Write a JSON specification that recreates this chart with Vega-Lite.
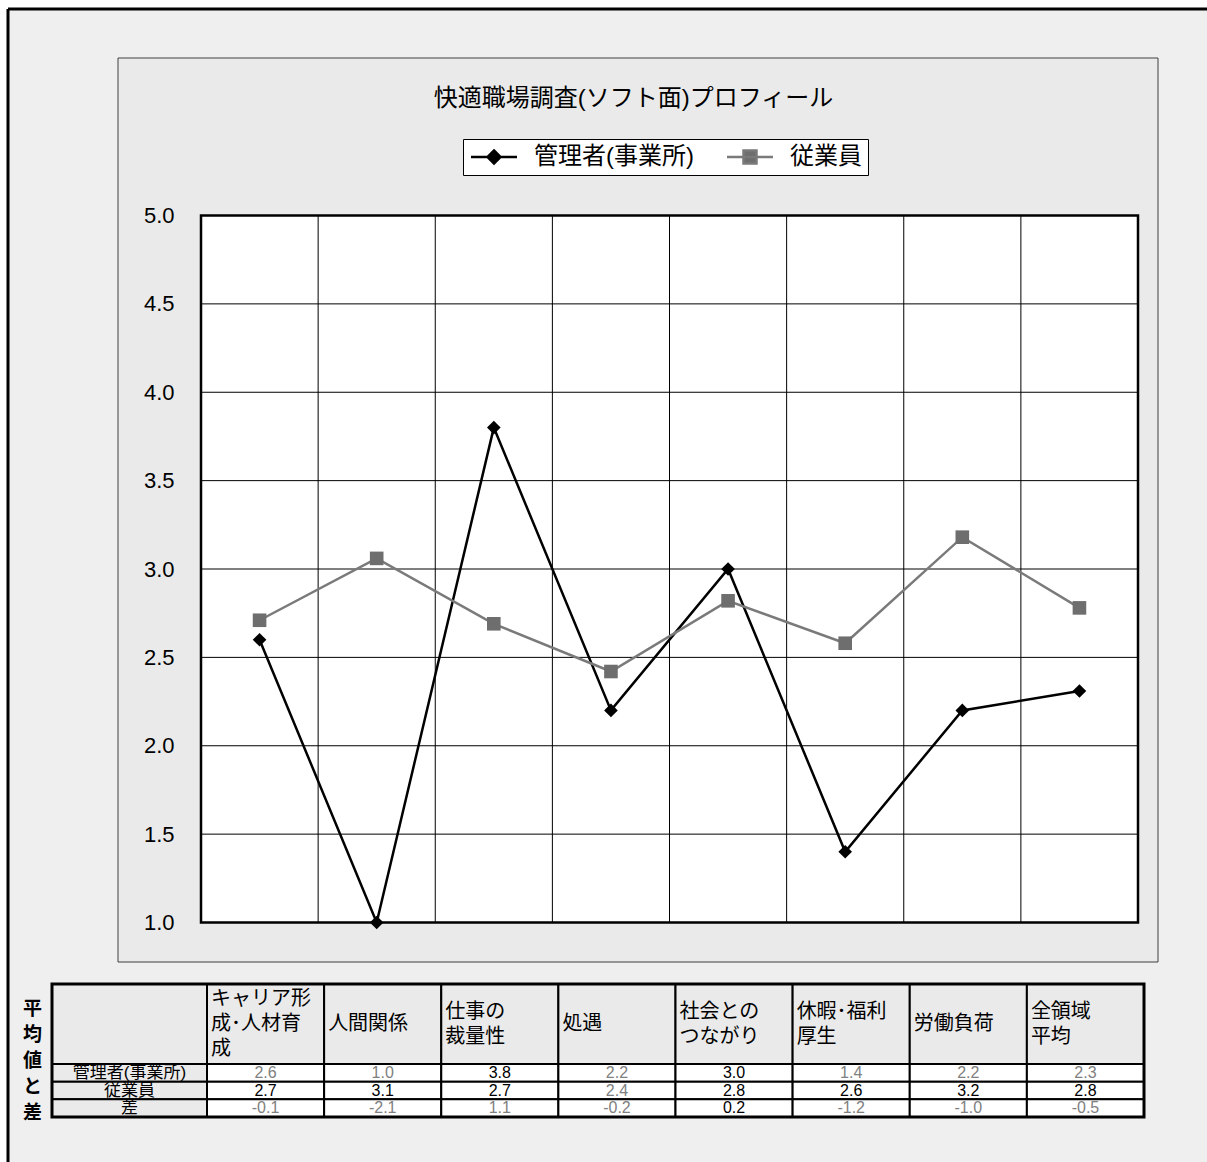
{
  "$schema": "https://vega.github.io/schema/vega-lite/v6.json",
  "width": 1199,
  "height": 1153,
  "autosize": {"type": "none"},
  "padding": {"left": 8, "top": 9, "right": 0, "bottom": 0},
  "background": "#FFFFFF",
  "config": {
    "view": {"fill": "#EFEFEF", "stroke": null},
    "font": "Liberation Sans, Noto Sans CJK JP",
    "locale": {"number": {"decimal": ".", "thousands": ",", "grouping": [3], "currency": ["", ""], "minus": "-"}}
  },
  "title": {
    "text": "快適職場調査(ソフト面)プロフィール",
    "fontSize": 24,
    "fontWeight": "normal",
    "font": "Liberation Sans, Noto Sans CJK JP",
    "color": "#000000",
    "anchor": "middle",
    "frame": "group",
    "baseline": "middle",
    "offset": -115,
    "dx": 26
  },
  "datasets": {
    "cells": [
      {"cat": "キャリア形成･人材育成", "row": "管理者(事業所)", "value": 2.6},
      {"cat": "人間関係", "row": "管理者(事業所)", "value": 1.0},
      {"cat": "仕事の裁量性", "row": "管理者(事業所)", "value": 3.8},
      {"cat": "処遇", "row": "管理者(事業所)", "value": 2.2},
      {"cat": "社会とのつながり", "row": "管理者(事業所)", "value": 3.0},
      {"cat": "休暇･福利厚生", "row": "管理者(事業所)", "value": 1.4},
      {"cat": "労働負荷", "row": "管理者(事業所)", "value": 2.2},
      {"cat": "全領域平均", "row": "管理者(事業所)", "value": 2.31},
      {"cat": "キャリア形成･人材育成", "row": "従業員", "value": 2.71},
      {"cat": "人間関係", "row": "従業員", "value": 3.06},
      {"cat": "仕事の裁量性", "row": "従業員", "value": 2.69},
      {"cat": "処遇", "row": "従業員", "value": 2.42},
      {"cat": "社会とのつながり", "row": "従業員", "value": 2.82},
      {"cat": "休暇･福利厚生", "row": "従業員", "value": 2.58},
      {"cat": "労働負荷", "row": "従業員", "value": 3.18},
      {"cat": "全領域平均", "row": "従業員", "value": 2.78},
      {"cat": "キャリア形成･人材育成", "row": "差", "value": -0.1},
      {"cat": "人間関係", "row": "差", "value": -2.1},
      {"cat": "仕事の裁量性", "row": "差", "value": 1.1},
      {"cat": "処遇", "row": "差", "value": -0.2},
      {"cat": "社会とのつながり", "row": "差", "value": 0.2},
      {"cat": "休暇･福利厚生", "row": "差", "value": -1.2},
      {"cat": "労働負荷", "row": "差", "value": -1.0},
      {"cat": "全領域平均", "row": "差", "value": -0.5}
    ],
    "headers": [
      {"cat": "キャリア形成･人材育成", "label": "キャリア形\n成･人材育\n成"},
      {"cat": "人間関係", "label": "人間関係"},
      {"cat": "仕事の裁量性", "label": "仕事の\n裁量性"},
      {"cat": "処遇", "label": "処遇"},
      {"cat": "社会とのつながり", "label": "社会との\nつながり"},
      {"cat": "休暇･福利厚生", "label": "休暇･福利\n厚生"},
      {"cat": "労働負荷", "label": "労働負荷"},
      {"cat": "全領域平均", "label": "全領域\n平均"}
    ],
    "levels": [
      {"level": 1.5}, {"level": 2.0}, {"level": 2.5}, {"level": 3.0},
      {"level": 3.5}, {"level": 4.0}, {"level": 4.5}
    ]
  },
  "layer": [
    {
      "data": {"values": [{}]},
      "mark": {"type": "rule", "color": "#000000", "strokeWidth": 3},
      "encoding": {
        "x": {"datum": 0, "type": "quantitative", "scale": {"domain": [0, 1]}, "axis": null},
        "x2": {"datum": 1},
        "y": {"datum": 1, "type": "quantitative", "scale": {"domain": [0, 1]}, "axis": null}
      }
    },
    {
      "data": {"values": [{}]},
      "mark": {"type": "rule", "color": "#000000", "strokeWidth": 3},
      "encoding": {
        "x": {"datum": 0, "type": "quantitative", "scale": {"domain": [0, 1]}, "axis": null},
        "y": {"datum": 0, "type": "quantitative", "scale": {"domain": [0, 1]}, "axis": null},
        "y2": {"datum": 1}
      }
    },
    {
      "data": {"values": [{}]},
      "mark": {"type": "rect", "fill": "#EAEAEA", "stroke": "#404040", "strokeWidth": 1},
      "encoding": {
        "x": {"datum": 0, "type": "quantitative", "scale": {"domain": [0, 1], "range": [110, 1150]}, "axis": null},
        "x2": {"datum": 1},
        "y": {"datum": 0, "type": "quantitative", "scale": {"domain": [0, 1], "range": [49, 953]}, "axis": null},
        "y2": {"datum": 1}
      }
    },
    {
      "data": {"values": [{}]},
      "mark": {"type": "rect", "fill": "#FFFFFF"},
      "encoding": {
        "x": {"datum": 0, "type": "quantitative", "scale": {"domain": [0, 1], "range": [193, 1130]}, "axis": null},
        "x2": {"datum": 1},
        "y": {"datum": 1, "type": "quantitative", "scale": {"domain": [1, 5], "range": [913.5, 206.5], "zero": false, "nice": false}, "axis": null},
        "y2": {"datum": 5}
      }
    },
    {
      "data": {"name": "levels"},
      "mark": {"type": "rule", "color": "#000000", "strokeWidth": 1},
      "encoding": {
        "y": {"field": "level", "type": "quantitative", "scale": {"domain": [1, 5], "range": [913.5, 206.5], "zero": false, "nice": false}, "axis": null},
        "x": {"datum": 0, "type": "quantitative", "scale": {"domain": [0, 1], "range": [193, 1130]}, "axis": null},
        "x2": {"datum": 1}
      }
    },
    {
      "data": {"name": "headers"},
      "mark": {"type": "rule", "color": "#000000", "strokeWidth": 1},
      "encoding": {
        "x": {"field": "cat", "type": "nominal", "bandPosition": 0,
              "scale": {"type": "band", "domain": ["キャリア形成･人材育成", "人間関係", "仕事の裁量性", "処遇", "社会とのつながり", "休暇･福利厚生", "労働負荷", "全領域平均"], "range": [193, 1130], "paddingInner": 0, "paddingOuter": 0},
              "axis": null},
        "y": {"datum": 1, "type": "quantitative", "scale": {"domain": [1, 5], "range": [913.5, 206.5], "zero": false, "nice": false}, "axis": null},
        "y2": {"datum": 5}
      }
    },
    {
      "data": {"values": [{}]},
      "mark": {"type": "rect", "fillOpacity": 0, "stroke": "#000000", "strokeWidth": 2.5},
      "encoding": {
        "x": {"datum": 0, "type": "quantitative", "scale": {"domain": [0, 1], "range": [193, 1130]}, "axis": null},
        "x2": {"datum": 1},
        "y": {"datum": 1, "type": "quantitative", "scale": {"domain": [1, 5], "range": [913.5, 206.5], "zero": false, "nice": false}, "axis": null},
        "y2": {"datum": 5}
      }
    },
    {
      "data": {"name": "cells"},
      "transform": [{"filter": "datum.row !== '差'"}],
      "mark": {"type": "line", "strokeWidth": 2.5},
      "encoding": {
        "x": {"field": "cat", "type": "nominal",
              "scale": {"type": "band", "domain": ["キャリア形成･人材育成", "人間関係", "仕事の裁量性", "処遇", "社会とのつながり", "休暇･福利厚生", "労働負荷", "全領域平均"], "range": [193, 1130], "paddingInner": 0, "paddingOuter": 0},
              "axis": null},
        "y": {"field": "value", "type": "quantitative",
              "scale": {"domain": [1, 5], "range": [913.5, 206.5], "zero": false, "nice": false},
              "axis": {"orient": "left", "values": [1, 1.5, 2, 2.5, 3, 3.5, 4, 4.5, 5], "format": ".1f", "labelFontSize": 22, "labelColor": "#000000", "labelFont": "Liberation Sans", "grid": false, "ticks": false, "domain": false, "title": null, "offset": -193, "labelPadding": 27, "zindex": 1, "labelFlush": false}},
        "color": {"field": "row", "type": "nominal",
                  "scale": {"domain": ["管理者(事業所)", "従業員"], "range": ["#000000", "#7a7a7a"]},
                  "legend": null}
      }
    },
    {
      "data": {"name": "cells"},
      "transform": [{"filter": "datum.row !== '差'"}],
      "mark": {"type": "point", "filled": true, "size": 185, "opacity": 1},
      "encoding": {
        "x": {"field": "cat", "type": "nominal",
              "scale": {"type": "band", "domain": ["キャリア形成･人材育成", "人間関係", "仕事の裁量性", "処遇", "社会とのつながり", "休暇･福利厚生", "労働負荷", "全領域平均"], "range": [193, 1130], "paddingInner": 0, "paddingOuter": 0},
              "axis": null},
        "y": {"field": "value", "type": "quantitative", "scale": {"domain": [1, 5], "range": [913.5, 206.5], "zero": false, "nice": false}, "axis": null},
        "color": {"field": "row", "type": "nominal", "scale": {"domain": ["管理者(事業所)", "従業員"], "range": ["#000000", "#6e6e6e"]}, "legend": null},
        "shape": {"field": "row", "type": "nominal", "scale": {"domain": ["管理者(事業所)", "従業員"], "range": ["diamond", "square"]}, "legend": null}
      }
    },
    {
      "data": {"name": "cells"},
      "transform": [{"filter": "datum.row !== '差'"}],
      "mark": {"type": "point", "filled": true, "size": 0, "opacity": 1, "strokeWidth": 2.5},
      "encoding": {
        "x": {"field": "cat", "type": "nominal",
              "scale": {"type": "band", "domain": ["キャリア形成･人材育成", "人間関係", "仕事の裁量性", "処遇", "社会とのつながり", "休暇･福利厚生", "労働負荷", "全領域平均"], "range": [193, 1130], "paddingInner": 0, "paddingOuter": 0},
              "axis": null},
        "y": {"field": "value", "type": "quantitative", "scale": {"domain": [1, 5], "range": [913.5, 206.5], "zero": false, "nice": false}, "axis": null},
        "fill": {"field": "row", "type": "nominal", "scale": {"domain": ["管理者(事業所)", "従業員"], "range": ["#000000", "#6e6e6e"]},
                 "legend": {"title": null, "orient": "none", "legendX": 455, "legendY": 130, "direction": "horizontal", "labelFontSize": 24, "labelFont": "Liberation Sans, Noto Sans CJK JP", "labelColor": "#000000", "labelOffset": 41, "columnPadding": 28, "padding": 6, "strokeColor": "#000000", "fillColor": "#FFFFFF", "symbolSize": 400, "symbolStrokeWidth": 2.5, "symbolOpacity": 1}},
        "stroke": {"field": "row", "type": "nominal", "scale": {"domain": ["管理者(事業所)", "従業員"], "range": ["#000000", "#7a7a7a"]},
                   "legend": {"title": null, "orient": "none", "legendX": 455, "legendY": 130, "direction": "horizontal", "labelFontSize": 24, "labelFont": "Liberation Sans, Noto Sans CJK JP", "labelColor": "#000000", "labelOffset": 41, "columnPadding": 28, "padding": 6, "strokeColor": "#000000", "fillColor": "#FFFFFF", "symbolSize": 400, "symbolStrokeWidth": 2.5, "symbolOpacity": 1}},
        "shape": {"field": "row", "type": "nominal", "scale": {"domain": ["管理者(事業所)", "従業員"], "range": ["M-1,0L3.6,0M1.3,-0.65L1.95,0L1.3,0.65L0.65,0Z", "M-1,0L3.6,0M0.65,-0.65L1.95,-0.65L1.95,0.65L0.65,0.65Z"]},
                  "legend": {"title": null, "orient": "none", "legendX": 455, "legendY": 130, "direction": "horizontal", "labelFontSize": 24, "labelFont": "Liberation Sans, Noto Sans CJK JP", "labelColor": "#000000", "labelOffset": 41, "columnPadding": 28, "padding": 6, "strokeColor": "#000000", "fillColor": "#FFFFFF", "symbolSize": 400, "symbolStrokeWidth": 2.5, "symbolOpacity": 1}}
      }
    },
    {
      "data": {"name": "headers"},
      "mark": {"type": "rect", "fill": "#EAEAEA", "stroke": "#000000", "strokeWidth": 2},
      "encoding": {
        "x": {"field": "cat", "type": "nominal",
              "scale": {"type": "band", "domain": ["キャリア形成･人材育成", "人間関係", "仕事の裁量性", "処遇", "社会とのつながり", "休暇･福利厚生", "労働負荷", "全領域平均"], "range": [199, 1136], "paddingInner": 0, "paddingOuter": 0},
              "axis": null},
        "y": {"datum": 0, "type": "quantitative", "scale": {"domain": [0, 1], "range": [975, 1055]}, "axis": null},
        "y2": {"datum": 1}
      }
    },
    {
      "data": {"values": [{}]},
      "mark": {"type": "rect", "fill": "#EAEAEA", "stroke": "#000000", "strokeWidth": 2},
      "encoding": {
        "x": {"datum": 0, "type": "quantitative", "scale": {"domain": [0, 1], "range": [44, 199]}, "axis": null},
        "x2": {"datum": 1},
        "y": {"datum": 0, "type": "quantitative", "scale": {"domain": [0, 1], "range": [975, 1055]}, "axis": null},
        "y2": {"datum": 1}
      }
    },
    {
      "data": {"name": "cells"},
      "transform": [{"aggregate": [{"op": "count", "as": "n"}], "groupby": ["row"]}],
      "mark": {"type": "rect", "fill": "#EAEAEA", "stroke": "#000000", "strokeWidth": 2},
      "encoding": {
        "x": {"datum": 0, "type": "quantitative", "scale": {"domain": [0, 1], "range": [44, 199]}, "axis": null},
        "x2": {"datum": 1},
        "y": {"field": "row", "type": "nominal", "scale": {"type": "band", "domain": ["管理者(事業所)", "従業員", "差"], "range": [1055, 1108], "paddingInner": 0, "paddingOuter": 0}, "axis": null}
      }
    },
    {
      "data": {"name": "cells"},
      "mark": {"type": "rect", "fill": "#FFFFFF", "stroke": "#000000", "strokeWidth": 2},
      "encoding": {
        "x": {"field": "cat", "type": "nominal",
              "scale": {"type": "band", "domain": ["キャリア形成･人材育成", "人間関係", "仕事の裁量性", "処遇", "社会とのつながり", "休暇･福利厚生", "労働負荷", "全領域平均"], "range": [199, 1136], "paddingInner": 0, "paddingOuter": 0},
              "axis": null},
        "y": {"field": "row", "type": "nominal", "scale": {"type": "band", "domain": ["管理者(事業所)", "従業員", "差"], "range": [1055, 1108], "paddingInner": 0, "paddingOuter": 0}, "axis": null}
      }
    },
    {
      "data": {"values": [{}]},
      "mark": {"type": "rect", "fillOpacity": 0, "stroke": "#000000", "strokeWidth": 3},
      "encoding": {
        "x": {"datum": 0, "type": "quantitative", "scale": {"domain": [0, 1], "range": [44, 1136]}, "axis": null},
        "x2": {"datum": 1},
        "y": {"datum": 0, "type": "quantitative", "scale": {"domain": [0, 1], "range": [975, 1108]}, "axis": null},
        "y2": {"datum": 1}
      }
    },
    {
      "data": {"name": "headers"},
      "transform": [{"filter": "length(split(datum.label, '\\n')) === 1"}],
      "mark": {"type": "text", "align": "left", "baseline": "middle", "dx": 4, "dy": 0, "fontSize": 20, "lineBreak": "\n", "lineHeight": 25, "color": "#000000", "font": "Liberation Sans, Noto Sans CJK JP"},
      "encoding": {
        "x": {"field": "cat", "type": "nominal", "bandPosition": 0,
              "scale": {"type": "band", "domain": ["キャリア形成･人材育成", "人間関係", "仕事の裁量性", "処遇", "社会とのつながり", "休暇･福利厚生", "労働負荷", "全領域平均"], "range": [199, 1136], "paddingInner": 0, "paddingOuter": 0},
              "axis": null},
        "y": {"datum": 0.5, "type": "quantitative", "scale": {"domain": [0, 1], "range": [975, 1055]}, "axis": null},
        "text": {"field": "label", "type": "nominal"}
      }
    },
    {
      "data": {"name": "headers"},
      "transform": [{"filter": "length(split(datum.label, '\\n')) === 2"}],
      "mark": {"type": "text", "align": "left", "baseline": "middle", "dx": 4, "dy": -12.5, "fontSize": 20, "lineBreak": "\n", "lineHeight": 25, "color": "#000000", "font": "Liberation Sans, Noto Sans CJK JP"},
      "encoding": {
        "x": {"field": "cat", "type": "nominal", "bandPosition": 0,
              "scale": {"type": "band", "domain": ["キャリア形成･人材育成", "人間関係", "仕事の裁量性", "処遇", "社会とのつながり", "休暇･福利厚生", "労働負荷", "全領域平均"], "range": [199, 1136], "paddingInner": 0, "paddingOuter": 0},
              "axis": null},
        "y": {"datum": 0.5, "type": "quantitative", "scale": {"domain": [0, 1], "range": [975, 1055]}, "axis": null},
        "text": {"field": "label", "type": "nominal"}
      }
    },
    {
      "data": {"name": "headers"},
      "transform": [{"filter": "length(split(datum.label, '\\n')) === 3"}],
      "mark": {"type": "text", "align": "left", "baseline": "middle", "dx": 4, "dy": -25, "fontSize": 20, "lineBreak": "\n", "lineHeight": 25, "color": "#000000", "font": "Liberation Sans, Noto Sans CJK JP"},
      "encoding": {
        "x": {"field": "cat", "type": "nominal", "bandPosition": 0,
              "scale": {"type": "band", "domain": ["キャリア形成･人材育成", "人間関係", "仕事の裁量性", "処遇", "社会とのつながり", "休暇･福利厚生", "労働負荷", "全領域平均"], "range": [199, 1136], "paddingInner": 0, "paddingOuter": 0},
              "axis": null},
        "y": {"datum": 0.5, "type": "quantitative", "scale": {"domain": [0, 1], "range": [975, 1055]}, "axis": null},
        "text": {"field": "label", "type": "nominal"}
      }
    },
    {
      "data": {"name": "cells"},
      "transform": [{"aggregate": [{"op": "count", "as": "n"}], "groupby": ["row"]}],
      "mark": {"type": "text", "align": "center", "baseline": "middle", "fontSize": 17, "color": "#000000", "font": "Liberation Sans, Noto Sans CJK JP"},
      "encoding": {
        "x": {"datum": 0.5, "type": "quantitative", "scale": {"domain": [0, 1], "range": [44, 199]}, "axis": null},
        "y": {"field": "row", "type": "nominal",
              "scale": {"type": "band", "domain": ["管理者(事業所)", "従業員", "差"], "range": [1055, 1108], "paddingInner": 0, "paddingOuter": 0},
              "axis": {"orient": "left", "labels": false, "ticks": false, "domain": false, "grid": false,
                       "title": ["平", "均", "値", "と", "差"], "titleAngle": 0, "titleX": 24, "titleY": 999,
                       "titleAlign": "center", "titleBaseline": "middle", "titleFontSize": 19, "titleFontWeight": "bold",
                       "titleLineHeight": 26, "titleColor": "#000000", "titleFont": "Noto Sans CJK JP"}},
        "text": {"field": "row", "type": "nominal"}
      }
    },
    {
      "data": {"name": "cells"},
      "mark": {"type": "text", "align": "center", "baseline": "middle", "fontSize": 16, "font": "Liberation Sans"},
      "encoding": {
        "x": {"field": "cat", "type": "nominal",
              "scale": {"type": "band", "domain": ["キャリア形成･人材育成", "人間関係", "仕事の裁量性", "処遇", "社会とのつながり", "休暇･福利厚生", "労働負荷", "全領域平均"], "range": [199, 1136], "paddingInner": 0, "paddingOuter": 0},
              "axis": null},
        "y": {"field": "row", "type": "nominal", "scale": {"type": "band", "domain": ["管理者(事業所)", "従業員", "差"], "range": [1055, 1108], "paddingInner": 0, "paddingOuter": 0}, "axis": null},
        "text": {"field": "value", "type": "quantitative", "format": ".1f"},
        "color": {
          "condition": {"test": "(datum.row === '管理者(事業所)' && datum.value >= 2.95) || (datum.row === '従業員' && datum.value >= 2.5) || (datum.row === '差' && datum.value > 0 && datum.value < 1)", "value": "#000000"},
          "value": "#808080"
        }
      }
    }
  ],
  "resolve": {"scale": {"x": "independent", "y": "independent", "color": "independent", "shape": "independent", "fill": "independent", "stroke": "independent"}}
}
